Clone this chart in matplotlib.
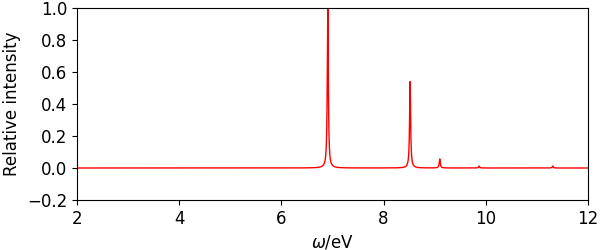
import numpy as np
import matplotlib
matplotlib.use("Agg")
import matplotlib.pyplot as plt

# Stick spectrum (peak position in eV, relative intensity)
peak_energies = [6.91, 8.52, 9.10, 9.87, 11.31]
peak_intensities = [1.00, 0.54, 0.056, 0.012, 0.012]
gamma = 0.012  # Lorentzian half width, eV
yticks = [-0.2, 0.0, 0.2, 0.4, 0.6, 0.8, 1.0]

omega = np.linspace(2, 12, 8001)
spectrum = np.zeros_like(omega)
for e, a in zip(peak_energies, peak_intensities):
    spectrum += a * gamma**2 / ((omega - e)**2 + gamma**2)

plt.rcParams['font.size'] = 12
fig, ax = plt.subplots(figsize=(6, 2.5), dpi=100)
ax.plot(omega, spectrum, 'r-', lw=1)
ax.set_xlim(2, 12)
ax.set_ylim(-0.2, 1.0)
ax.set_yticks(yticks)
ax.set_xlabel(r"$\omega$/eV")
ax.set_ylabel("Relative intensity")
fig.subplots_adjust(left=0.128, right=0.98, bottom=0.2, top=0.968)
fig.savefig("out.png")
